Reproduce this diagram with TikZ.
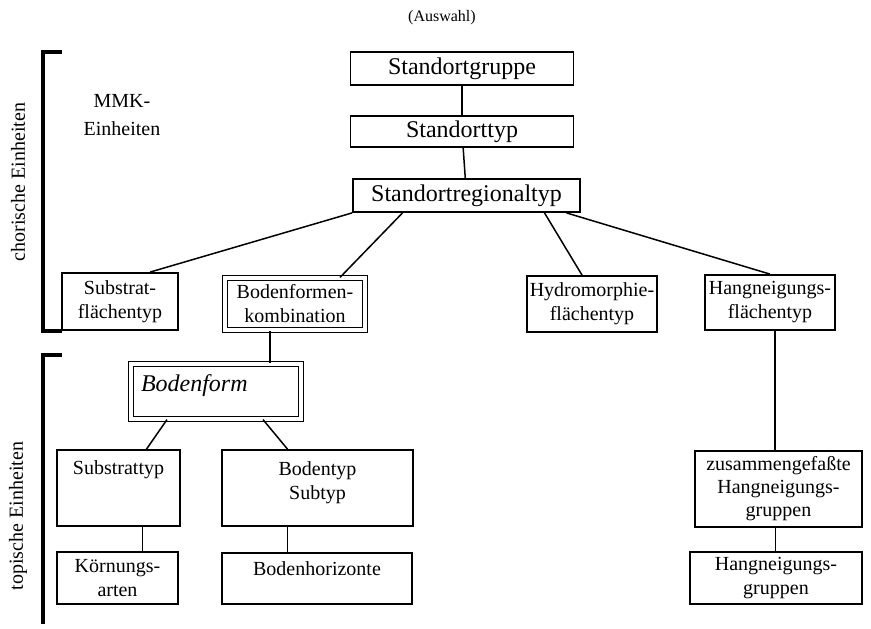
\documentclass[tikz,border=0pt]{standalone}
\usepackage{fontspec}
\setmainfont{Liberation Serif}
\begin{document}
\begin{tikzpicture}[x=0.5pt, y=-0.5pt,
  box/.style={draw, line width=0.9pt, inner sep=1pt, align=center,
    font=\fontsize{10}{12}\selectfont},
  bigbox/.style={box, font=\fontsize{12}{14}\selectfont},
  dbox/.style={box, double, double distance=1.6pt, line width=0.6pt},
  link/.style={line width=0.75pt},
  bracket/.style={line width=1.8pt}]
  \useasboundingbox (0,0) rectangle (871,628);

  % Title
  \node[font=\fontsize{8}{9}\selectfont] (title) at (442,18) {(Auswahl)};

  % Side brackets
  \draw[bracket] (62,52) -- (43,52) -- (43,331) -- (62,331);
  \draw[bracket] (62,355) -- (43,355) -- (43,624);
  \node[rotate=90, font=\fontsize{10}{12}\selectfont] (chor) at (18,182) {chorische Einheiten};
  \node[rotate=90, font=\fontsize{10}{12}\selectfont] (top) at (18,516) {topische Einheiten};
  \node[align=center, font=\fontsize{10}{14}\selectfont] (mmk) at (122,115) {MMK-\\Einheiten};

  % Upper levels
  \node[bigbox, minimum width=111.5pt, minimum height=16.5pt] (grp) at (462,68.5) {Standortgruppe};
  \node[bigbox, minimum width=111.5pt, minimum height=15.5pt] (typ) at (462,131.5) {Standorttyp};
  \node[bigbox, minimum width=113.5pt, minimum height=16.5pt] (reg) at (466.5,195.5) {Standortregionaltyp};

  % Area types
  \node[box, minimum width=58pt, minimum height=28.5pt] (sub) at (120,301.5) {Substrat-\\flächentyp};
  \node[dbox, minimum width=70pt, minimum height=26pt] (bfk) at (295,304) {Bodenformen-\\kombination};
  \node[box, minimum width=65pt, minimum height=28pt] (hyd) at (592,304) {Hydromorphie-\\flächentyp};
  \node[box, minimum width=65pt, minimum height=27.5pt] (hng) at (770,302.5) {Hangneigungs-\\flächentyp};

  % Soil form
  \node[dbox, font=\fontsize{12}{14}\selectfont\itshape, text width=75pt, align=left,
    inner xsep=5pt, text height=8pt, text depth=8pt, minimum height=27.5pt] (bf) at (216,391.5) {Bodenform};

  % Topic units
  \node[box, minimum width=61.5pt, inner ysep=0pt, text height=12pt, text depth=26pt] (st) at (118.5,488) {Substrattyp};
  \node[box, minimum width=95.5pt, inner ysep=0pt, text height=24.5pt, text depth=13.5pt] (btp) at (317.5,488) {Bodentyp\\Subtyp};
  \node[box, minimum width=60.5pt, minimum height=26pt] (krn) at (117.5,578) {Körnungs-\\arten};
  \node[box, minimum width=95pt, inner ysep=0pt, text height=11pt, text depth=14.5pt] (bhz) at (317,578.5) {Bodenhorizonte};
  \node[box, minimum width=83.5pt, minimum height=38pt, font=\fontsize{10}{11.5}\selectfont] (zus) at (778.5,489) {zusammengefaßte\\Hangneigungs-\\gruppen};
  \node[box, minimum width=86pt, minimum height=26pt] (hgr) at (776,578) {Hangneigungs-\\gruppen};

  % Connectors
  \draw[link] (grp) -- (typ);
  \draw[link] (typ) -- (reg);
  \draw[link] (reg.south west) -- ([xshift=15pt]sub.north);
  \draw[link] ([xshift=-32pt]reg.south) -- ([xshift=22.5pt]bfk.north);
  \draw[link] ([xshift=39pt]reg.south) -- ([xshift=-5pt]hyd.north);
  \draw[link] ([xshift=50pt]reg.south) -- (hng.north);
  \draw[link] ([xshift=-12.5pt]bfk.south) -- ([xshift=-12.5pt]bfk.south |- bf.north);
  \draw[link] ([xshift=-24.5pt]bf.south) -- ([xshift=14pt]st.north);
  \draw[link] ([xshift=23.5pt]bf.south) -- ([xshift=-15pt]btp.north);
  \draw[link] ([xshift=12pt]st.south) -- ([xshift=12pt]st.south |- krn.north);
  \draw[link] ([xshift=-15pt]btp.south) -- ([xshift=-15pt]btp.south |- bhz.north);
  \draw[link] ([xshift=2.5pt]hng.south) -- ([xshift=2.5pt]hng.south |- zus.north);
  \draw[link] ([xshift=-1.5pt]zus.south) -- ([xshift=-1.5pt]zus.south |- hgr.north);
\end{tikzpicture}
\end{document}
